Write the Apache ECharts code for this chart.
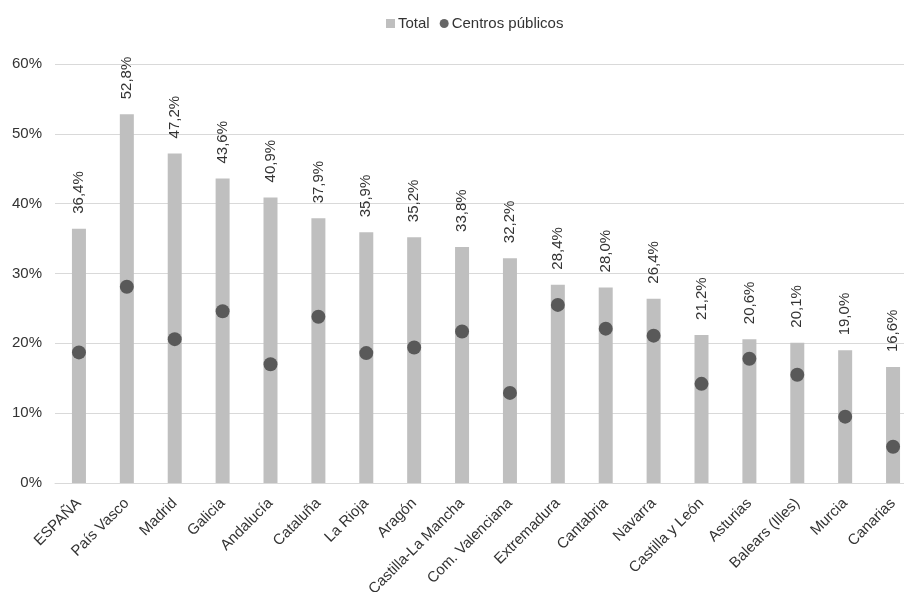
<!DOCTYPE html>
<html>
<head>
<meta charset="utf-8">
<script src="https://cdn.jsdelivr.net/npm/echarts@6/dist/echarts.min.js"></script>
<style>
  html, body { margin: 0; padding: 0; background: #ffffff; overflow: hidden; }
  #chart { width: 917px; height: 592px; }
</style>
</head>
<body>
<div id="chart"></div>
<script>
// Comunidades autónomas, ordenadas por el total
const categories = ['ESPAÑA', 'País Vasco', 'Madrid', 'Galicia', 'Andalucía', 'Cataluña', 'La Rioja', 'Aragón',
  'Castilla-La Mancha', 'Com. Valenciana', 'Extremadura', 'Cantabria', 'Navarra', 'Castilla y León',
  'Asturias', 'Balears (Illes)', 'Murcia', 'Canarias'];

// Porcentaje total
const totalValues = [36.4, 52.8, 47.2, 43.6, 40.9, 37.9, 35.9, 35.2, 33.8, 32.2, 28.4, 28.0, 26.4, 21.2, 20.6, 20.1, 19.0, 16.6];

// Porcentaje en centros públicos
const publicValues = [18.7, 28.1, 20.6, 24.6, 17.0, 23.8, 18.6, 19.4, 21.7, 12.9, 25.5, 22.1, 21.1, 14.2, 17.8, 15.5, 9.5, 5.2];

// Marcas del eje vertical
const yTicks = [0, 10, 20, 30, 40, 50, 60];

const fmt = v => v.toFixed(1).replace('.', ',') + '%';
const font = 'Liberation Sans, Arial, sans-serif';
const textColor = '#333333';

const chart = echarts.init(document.getElementById('chart'), null, { renderer: 'canvas' });
chart.setOption({
  animation: false,
  textStyle: { fontFamily: font },
  legend: {
    top: 11,
    left: 381,
    itemGap: 10,
    itemWidth: 9,
    itemHeight: 9,
    textStyle: { fontFamily: font, fontSize: 15, color: textColor, padding: [0, 0, 0, -2] },
    data: [
      { name: 'Total', icon: 'rect' },
      { name: 'Centros públicos', icon: 'circle' }
    ]
  },
  grid: { left: 55, top: 64, right: 0, bottom: 109, containLabel: false, outerBoundsMode: 'none' },
  xAxis: {
    type: 'category',
    data: categories,
    axisLine: { show: true, lineStyle: { color: '#d9d9d9', width: 1 } },
    axisTick: { show: false },
    axisLabel: {
      interval: 0,
      rotate: 45,
      margin: 18,
      fontFamily: font,
      fontSize: 15,
      color: textColor
    }
  },
  yAxis: {
    type: 'value',
    min: yTicks[0],
    max: yTicks[yTicks.length - 1],
    interval: 10,
    axisLine: { show: false },
    axisTick: { show: false },
    splitLine: { lineStyle: { color: '#d9d9d9', width: 1 } },
    axisLabel: {
      margin: 13,
      fontFamily: font,
      fontSize: 15,
      color: textColor,
      formatter: v => v + '%'
    }
  },
  series: [
    {
      name: 'Total',
      type: 'bar',
      data: totalValues,
      barWidth: 14,
      itemStyle: { color: '#bfbfbf' },
      label: {
        show: true,
        position: 'top',
        rotate: 90,
        align: 'left',
        verticalAlign: 'middle',
        distance: 15,
        fontFamily: font,
        fontSize: 15,
        color: textColor,
        formatter: p => fmt(p.value)
      }
    },
    {
      name: 'Centros públicos',
      type: 'scatter',
      data: publicValues,
      symbol: 'circle',
      symbolSize: 14,
      itemStyle: { color: '#404040' },
      z: 3
    }
  ]
});
</script>
</body>
</html>
